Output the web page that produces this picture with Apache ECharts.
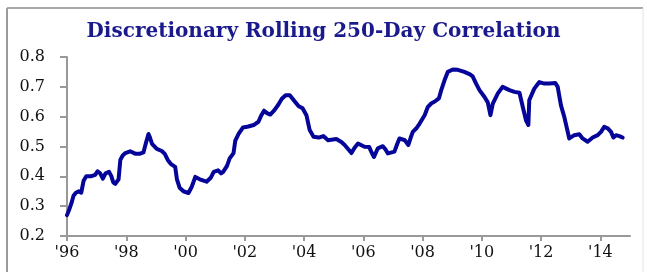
<!DOCTYPE html>
<html>
<head>
<meta charset="utf-8">
<style>
  html, body { margin: 0; padding: 0; background: #fff; }
  #chart { width: 647px; height: 272px; }
</style>
<script src="https://cdn.jsdelivr.net/npm/echarts@6/dist/echarts.min.js"></script>
</head>
<body>
<div id="chart"></div>
<script>
// rolling 250-day correlation (decimal year, value)
var years = [
    1996.00, 1996.08, 1996.15, 1996.22, 1996.30, 1996.40, 1996.48, 1996.56, 1996.65, 1996.80,
    1996.95, 1997.03, 1997.12, 1997.21, 1997.30, 1997.42, 1997.50, 1997.56, 1997.63, 1997.74,
    1997.80, 1997.88, 1997.97, 1998.13, 1998.30, 1998.47, 1998.58, 1998.67, 1998.75, 1998.80,
    1998.87, 1999.03, 1999.20, 1999.30, 1999.40, 1999.50, 1999.65, 1999.71, 1999.80, 1999.93,
    2000.10, 2000.21, 2000.33, 2000.48, 2000.71, 2000.85, 2000.95, 2001.10, 2001.20, 2001.27,
    2001.40, 2001.49, 2001.62, 2001.68, 2001.79, 2001.94, 2002.12, 2002.30, 2002.46, 2002.56,
    2002.65, 2002.75, 2002.86, 2003.00, 2003.13, 2003.25, 2003.38, 2003.52, 2003.68, 2003.82,
    2003.95, 2004.08, 2004.19, 2004.32, 2004.50, 2004.65, 2004.81, 2005.09, 2005.26, 2005.37,
    2005.50, 2005.60, 2005.70, 2005.82, 2006.04, 2006.20, 2006.28, 2006.36, 2006.49, 2006.66,
    2006.75, 2006.83, 2007.05, 2007.15, 2007.22, 2007.40, 2007.52, 2007.60, 2007.67, 2007.80,
    2007.90, 2008.07, 2008.18, 2008.30, 2008.40, 2008.55, 2008.63, 2008.74, 2008.85, 2009.02,
    2009.19, 2009.41, 2009.60, 2009.69, 2009.81, 2009.92, 2010.09, 2010.20, 2010.29, 2010.37,
    2010.54, 2010.70, 2010.93, 2011.10, 2011.27, 2011.38, 2011.49, 2011.57, 2011.60, 2011.77,
    2011.94, 2012.11, 2012.28, 2012.48, 2012.56, 2012.67, 2012.78, 2012.95, 2013.12, 2013.29,
    2013.40, 2013.57, 2013.74, 2013.91, 2014.02, 2014.13, 2014.25, 2014.36, 2014.44, 2014.53,
    2014.64, 2014.75
];
var corr = [
    0.270, 0.290, 0.310, 0.335, 0.345, 0.350, 0.345, 0.385, 0.400, 0.400,
    0.405, 0.417, 0.410, 0.392, 0.410, 0.415, 0.400, 0.380, 0.375, 0.390,
    0.455, 0.470, 0.478, 0.484, 0.476, 0.476, 0.480, 0.514, 0.542, 0.530,
    0.509, 0.492, 0.485, 0.475, 0.455, 0.442, 0.432, 0.390, 0.362, 0.350,
    0.344, 0.365, 0.398, 0.390, 0.382, 0.395, 0.415, 0.420, 0.410, 0.415,
    0.435, 0.460, 0.478, 0.520, 0.542, 0.564, 0.567, 0.572, 0.583, 0.605,
    0.620, 0.612, 0.607, 0.622, 0.640, 0.660, 0.672, 0.672, 0.652, 0.635,
    0.628, 0.605, 0.555, 0.533, 0.530, 0.535, 0.521, 0.525, 0.515, 0.505,
    0.490, 0.478, 0.495, 0.510, 0.499, 0.498, 0.480, 0.465, 0.494, 0.501,
    0.490, 0.477, 0.483, 0.510, 0.527, 0.521, 0.505, 0.530, 0.549, 0.562,
    0.577, 0.605, 0.633, 0.645, 0.650, 0.661, 0.689, 0.722, 0.750, 0.758,
    0.757, 0.750, 0.742, 0.735, 0.710, 0.689, 0.666, 0.648, 0.605, 0.644,
    0.678, 0.700, 0.689, 0.683, 0.680, 0.633, 0.588, 0.572, 0.655, 0.694,
    0.716, 0.711, 0.711, 0.713, 0.700, 0.638, 0.600, 0.527, 0.538, 0.541,
    0.527, 0.516, 0.530, 0.538, 0.549, 0.566, 0.561, 0.549, 0.530, 0.538,
    0.535, 0.530
];
var yearTicks = [1996, 1998, 2000, 2002, 2004, 2006, 2008, 2010, 2012, 2014];
var titleText = 'Discretionary Rolling 250-Day Correlation';

var points = years.map(function (y, i) { return [y, corr[i]]; });
var serif = '"DejaVu Serif", "Liberation Serif", serif';

var chart = echarts.init(document.getElementById('chart'));
var option = {
    animation: false,
    backgroundColor: '#fff',
    title: {
        text: titleText,
        left: 'center',
        top: 17,
        textStyle: { fontFamily: serif, fontSize: 20, fontWeight: 'bold', color: '#1a1a8c' }
    },
    // outer frame
    graphic: [
        { type: 'line', shape: { x1: 7, y1: 8, x2: 7, y2: 272 }, style: { stroke: '#9a9a9a', lineWidth: 2 } },
        { type: 'line', shape: { x1: 7, y1: 8, x2: 643, y2: 8 }, style: { stroke: '#a8a8a8', lineWidth: 2 } },
        { type: 'line', shape: { x1: 643, y1: 8, x2: 643, y2: 272 }, style: { stroke: '#e4e4e4', lineWidth: 1 } }
    ],
    grid: { left: 67, right: 17, top: 57, bottom: 36 },
    xAxis: {
        type: 'value',
        min: 1996,
        max: 2015,
        interval: 2,
        axisLine: { lineStyle: { color: '#999', width: 2 } },
        axisTick: { length: 5, lineStyle: { color: '#999', width: 2 },
            customValues: yearTicks },
        axisLabel: {
            customValues: yearTicks,
            margin: 9,
            fontFamily: serif, fontSize: 16, color: '#111',
            formatter: function (v) { return "'" + String(v).slice(2); }
        },
        splitLine: { show: false }
    },
    yAxis: {
        type: 'value',
        min: 0.2,
        max: 0.8,
        interval: 0.1,
        axisLine: { show: true, lineStyle: { color: '#999', width: 2 } },
        axisTick: { show: true, length: 7, lineStyle: { color: '#999', width: 2 } },
        axisLabel: {
            margin: 22,
            fontFamily: serif, fontSize: 16, color: '#111',
            formatter: function (v) { return v.toFixed(1); }
        },
        splitLine: { show: false }
    },
    series: [{
        type: 'line',
        data: points,
        symbol: 'none',
        lineStyle: { color: '#05059a', width: 4, join: 'round', cap: 'round' }
    }]
};
chart.setOption(option);
</script>
</body>
</html>
